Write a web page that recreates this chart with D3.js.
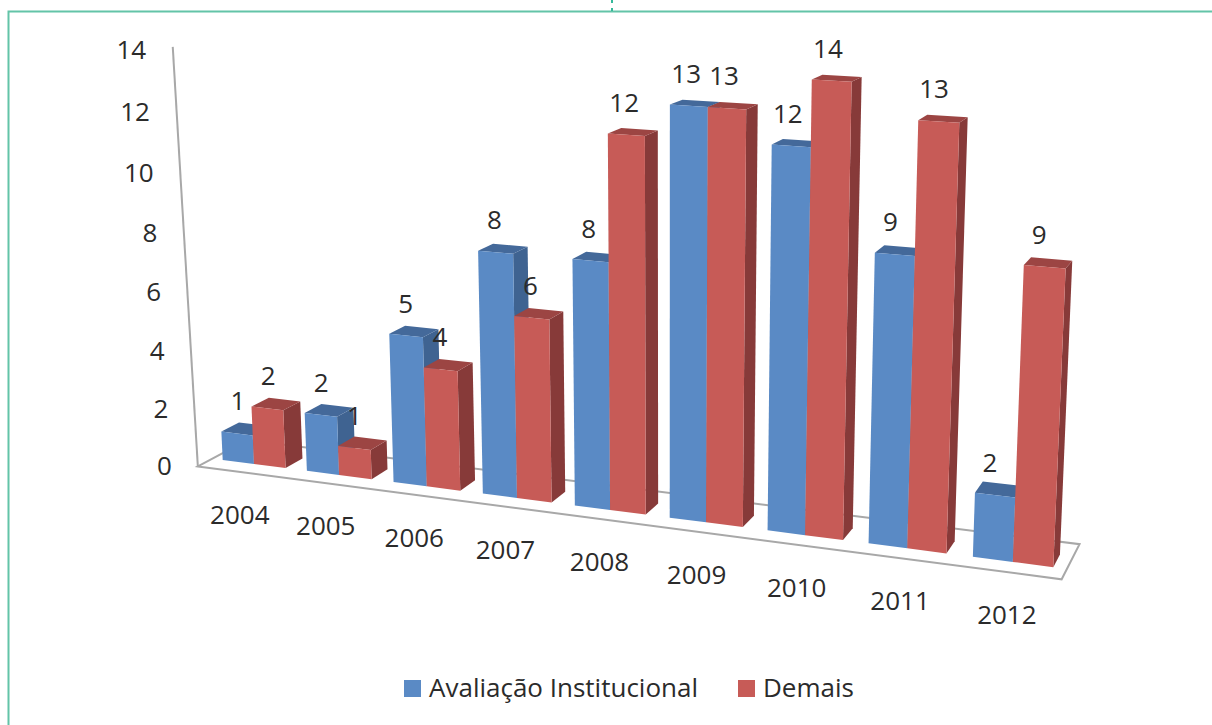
<!DOCTYPE html>
<html>
<head>
<meta charset="utf-8">
<script src="https://cdn.jsdelivr.net/npm/d3@7"></script>
<style>
  html, body { margin: 0; background: #fff; overflow: hidden; }
  text { font-family: "Open Sans", sans-serif; fill: #2b2b2b; }
</style>
</head>
<body>
<div id="chart"></div>
<script>
const years = ['2004', '2005', '2006', '2007', '2008', '2009', '2010', '2011', '2012'];
const seriesNames = ['Avaliação Institucional', 'Demais'];
const avaliacao = [1, 2, 5, 8, 8, 13, 12, 9, 2];
const demais = [2, 1, 4, 6, 12, 13, 14, 13, 9];
const yTicks = [0, 2, 4, 6, 8, 10, 12, 14];

const width = 1212, height = 725;
const fontSize = 26;

const colors = [
    { front: '#5a8ac5', top: '#44699a', side: '#3f6391' },
    { front: '#c75b57', top: '#9c4543', side: '#873a39' }
];

const svg = d3.select('#chart').append('svg')
    .attr('width', width)
    .attr('height', height)
    .attr('viewBox', `0 0 ${width} ${height}`);

// scales work in "chart units", camera() below turns them into pixels
const xBand = d3.scaleBand(years, [-0.125, 8.875]).paddingInner(0.25).paddingOuter(0.125);
const xSeries = d3.scaleBand([0, 1], [0, xBand.bandwidth()]);
const yScale = d3.scaleLinear([0, 14], [0, 1]);
const depth = d3.scaleLinear([0, 1], [0, 1]);

// perspective projection fitted on the picture: u along the categories, v up, w into the page
function camera(u, v, w) {
    const d = 1 - 0.0144 * u - 0.042 * v + 0.01435 * w;
    return [
        (222.7 + 79.76 * u - 28 * v + 21 * w) / d,
        (460 + 4.08 * u - 417.2 * v - 3 * w) / d
    ];
}

const floorU = xBand.range();
const floorW = [-0.8, 2];
const line = d3.line();
const poly = pts => line(pts) + 'Z';

// teal frame of the slide
const teal = '#63c4a8';
svg.append('path')
    .attr('d', `M8.5,${height}V11.5H${width}`)
    .attr('fill', 'none')
    .attr('stroke', teal)
    .attr('stroke-width', 2);
svg.append('path')
    .attr('d', 'M612,0V3M612,8V11')
    .attr('stroke', '#35b89a')
    .attr('stroke-width', 2);

// floor and vertical axis
const grid = svg.append('g').attr('fill', 'none').attr('stroke', '#a8a8a8').attr('stroke-width', 2);
grid.append('path').attr('d', poly([
    camera(floorU[0], 0, floorW[0]),
    camera(floorU[1], 0, floorW[0]),
    camera(floorU[1], 0, floorW[1]),
    camera(floorU[0], 0, floorW[1])
]));
// the axis leans a little more than the bars do
grid.append('path').attr('d', line([
    camera(floorU[0], 0, floorW[0]),
    camera(floorU[0] - 0.05, yScale(14), floorW[0])
]));

// y tick labels
svg.append('g').selectAll('text')
    .data(yTicks)
    .join('text')
    .attr('x', d => camera(floorU[0], yScale(d), floorW[0])[0] - 26 - d * 0.35)
    .attr('y', d => camera(floorU[0], yScale(d), floorW[0])[1] + 9 + d * 0.2)
    .attr('text-anchor', 'end')
    .attr('font-size', fontSize)
    .text(d => d);

// year labels
svg.append('g').selectAll('text')
    .data(years)
    .join('text')
    .attr('x', d => camera(xBand(d) + xBand.bandwidth() / 2, 0, floorW[0])[0])
    .attr('y', d => camera(xBand(d) + xBand.bandwidth() / 2, 0, floorW[0])[1] + 52)
    .attr('text-anchor', 'middle')
    .attr('font-size', fontSize)
    .text(d => d);

// bars, left to right so nearer faces paint over
const bars = years.flatMap((year, i) => [avaliacao[i], demais[i]].map((value, s) => ({ year, value, s })));
const bar = svg.append('g').selectAll('g')
    .data(bars)
    .join('g');

const barPts = d => {
    const u0 = xBand(d.year) + xSeries(d.s), u1 = u0 + xSeries.bandwidth();
    const v = yScale(d.value), w0 = depth(0), w1 = depth(1);
    return { u0, u1, v, w0, w1 };
};

bar.append('path')
    .attr('fill', d => colors[d.s].side)
    .attr('d', d => {
        const b = barPts(d);
        return poly([camera(b.u1, 0, b.w0), camera(b.u1, 0, b.w1), camera(b.u1, b.v, b.w1), camera(b.u1, b.v, b.w0)]);
    });
bar.append('path')
    .attr('fill', d => colors[d.s].top)
    .attr('d', d => {
        const b = barPts(d);
        return poly([camera(b.u0, b.v, b.w0), camera(b.u1, b.v, b.w0), camera(b.u1, b.v, b.w1), camera(b.u0, b.v, b.w1)]);
    });
bar.append('path')
    .attr('fill', d => colors[d.s].front)
    .attr('d', d => {
        const b = barPts(d);
        return poly([camera(b.u0, 0, b.w0), camera(b.u1, 0, b.w0), camera(b.u1, b.v, b.w0), camera(b.u0, b.v, b.w0)]);
    });

// value labels, on top of everything
const labelPos = d => {
    const b = barPts(d);
    const p = camera((b.u0 + b.u1) / 2, b.v, 0);
    return [p[0] - (p[0] - 240) * 0.008 + 1, p[1] - 23];
};
svg.append('g').selectAll('text')
    .data(bars)
    .join('text')
    .attr('x', d => labelPos(d)[0])
    .attr('y', d => labelPos(d)[1])
    .attr('text-anchor', 'middle')
    .attr('font-size', fontSize)
    .text(d => d.value);

// legend
const legendX = d3.scaleOrdinal([0, 1], [404, 738]);
const legend = svg.append('g').selectAll('g')
    .data(seriesNames)
    .join('g')
    .attr('transform', (d, i) => `translate(${legendX(i)},680)`);
legend.append('rect')
    .attr('width', 17)
    .attr('height', 17)
    .attr('fill', (d, i) => colors[i].front);
legend.append('text')
    .attr('x', 25)
    .attr('y', 17)
    .attr('font-size', fontSize)
    .text(d => d);
</script>
</body>
</html>
